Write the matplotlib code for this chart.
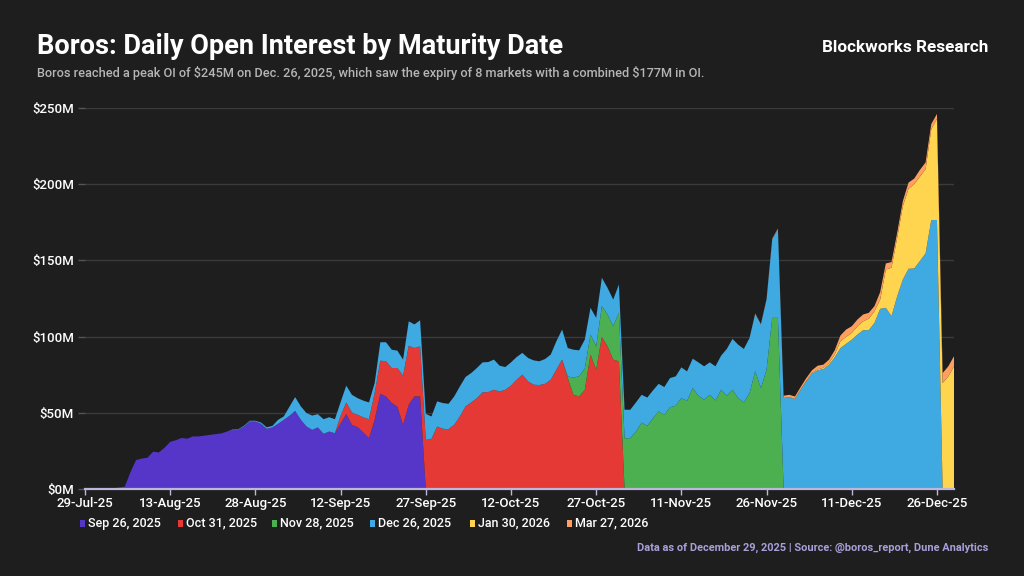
import numpy as np
import pandas as pd
import matplotlib
matplotlib.use("Agg")
import matplotlib.pyplot as plt
import matplotlib.dates as mdates
from matplotlib.patches import Rectangle

plt.rcParams['font.family'] = ['Roboto', 'DejaVu Sans']

# Daily dates, 29-Jul-25 .. 29-Dec-25
dates = pd.date_range('2025-07-29', '2025-12-29', freq='D')
n_days = len(dates)

# Open interest per maturity ($M); each list starts at its first day index
sep26_start = 0
sep26 = [0.2, 0.2, 0.2, 0.2, 0.2, 0.5, 1.0, 1.5, 11, 19,
         20, 20.5, 24.5, 24, 27, 31, 32, 33.5, 33, 34.5,
         34.5, 35, 35.5, 36, 36.5, 37.7, 38.8, 39, 41, 44.3,
         44.3, 42.8, 39.5, 40.4, 42.8, 45.4, 48, 51.3, 45.4, 41,
         38.8, 40.4, 36.2, 37.7, 36.6, 43, 49.1, 42, 40.6, 37,
         33.3, 45.4, 62.5, 60.7, 56.4, 54, 42, 55.3, 60.7, 60.7]

oct31_start = 45
oct31 = [5, 7.7, 8.2, 8.1, 10, 12.5, 17.6, 21.7, 23.1, 23,
         25.4, 32.3, 38.7, 31.8, 32.9,
         32.2, 32.9, 41, 39.5, 39.3, 42.1, 47.6, 54.2, 56.8, 59.6,
         63.4, 63.6, 65.1, 64, 65.1, 67.8, 71.7, 75, 70.6, 68.4,
         68.2, 69, 71.7, 78.3, 84.9, 72.8, 61.8, 60.7, 65.1, 88.2,
         78.3, 99.8, 93.6, 84.9, 83.8]

nov28_start = 85
nov28 = [1.1, 11.2, 13.3, 14, 13.1, 15.3, 20.2, 20.9, 21.9, 31.8,
         33.3, 33.3, 37.7, 43.6, 41.4, 46.5, 50.9, 48.7, 53.7, 54.6,
         59.6, 57.9, 66.2, 61.2, 58.6, 61.8, 58.1, 65.1, 61.2, 65.1,
         59.6, 56.8, 62.9, 77.2, 66.2, 78.3, 112.3, 112.3]

dec26_start = 26
dec26 = [0.3, 0.3, 0.5, 0.5, 0.5, 0.8, 1.0, 1.0, 2.6, 2.2,
         6, 9, 8.8, 8.8, 9.4, 8.7, 9.6, 9.4, 9.2, 9,
         11, 11.6, 10.9, 11, 11, 6.5, 12.1, 12.5, 12, 11.4,
         10.6, 16, 15.5, 17.1,
         17.1, 14.7, 16.5, 16.9, 16.6, 18.6, 19.7, 19.3, 19.3, 19.8,
         19.7, 19.7, 19.8, 16.9, 14.9, 15.3, 14.9, 14.3, 15.4, 16,
         15.6, 16.3, 16.5, 18.7, 19.7, 18.6, 18.4, 17, 19, 17.6,
         18.7, 18.6, 17.5, 17.5, 18.6,
         18.7, 18.7, 19.1, 18.2, 18.6, 18.2, 18.1, 18.2, 19.1, 19.3,
         20.2, 19.3, 19.3, 21.9, 21.9, 21.3, 22.4, 22.4, 30.7, 33.4,
         35.1, 35.1, 36.2, 37.7, 41.7, 46, 51.5, 58.1,
         59.6, 60.1, 59, 65.1, 70.6, 75.7, 77.9, 78.7, 81.6, 86.4,
         92.5, 95.2, 98, 101.3, 104.2, 104.2, 109, 118.2, 118.9, 113.4,
         126.5, 137.5, 144.5, 144.7, 149.6, 154.6, 176.5, 176.5]

jan30_start = 123
jan30 = [0.2, 0.2, 0.2, 0.3, 0.4, 0.5, 0.6, 0.8, 1.1, 1.8,
         4.4, 4.6, 4.4, 5.5, 5.8, 7.6, 7.7, 6.1, 25.1, 31.8,
         38.4, 48.2, 52.6, 55.3, 55.4, 55.3, 59.7, 66.3, 69.5, 73.9,
         80.5]

mar27_start = 118
mar27 = [0.3, 0.3, 0.4, 0.5, 0.5,
         1.4, 1.5, 1.5, 1.5, 1.8, 1.7, 2.4, 2.1, 2.2, 2.8,
         3.8, 4.8, 4.4, 4.4, 4.5, 3.8, 3.3, 4.9, 4, 3.7,
         3.3, 3.3, 4, 3.7, 4.4, 4.4, 3.3, 3.3, 6.6, 6.6,
         6.6]

labels = ['Sep 26, 2025', 'Oct 31, 2025', 'Nov 28, 2025',
          'Dec 26, 2025', 'Jan 30, 2026', 'Mar 27, 2026']
colors = ['#5536c9', '#e53935', '#4caf50', '#3fa9e1', '#ffd54f', '#ff9f5f']


def full_series(values, start):
    arr = np.zeros(n_days)
    arr[start:start + len(values)] = values
    return arr


series = [full_series(sep26, sep26_start), full_series(oct31, oct31_start),
          full_series(nov28, nov28_start), full_series(dec26, dec26_start),
          full_series(jan30, jan30_start), full_series(mar27, mar27_start)]

BG = '#1e1e1e'
fig = plt.figure(figsize=(10.24, 5.76), dpi=100, facecolor=BG)
ax = fig.add_axes([85 / 1024, 1 - 489 / 576, (954 - 85) / 1024, (489 - 108) / 576])
ax.set_facecolor(BG)

ax.stackplot(dates, *series, colors=colors, linewidth=0, zorder=2)

ax.set_xlim(dates[0], dates[-1])
ax.set_ylim(0, 250)
ax.set_yticks(np.arange(0, 251, 50))
ax.set_yticklabels([f'${v}M' for v in range(0, 251, 50)])
ax.grid(axis='y', color='#3a3a3a', linewidth=1, zorder=0)
ax.set_axisbelow(True)

tick_dates = dates[::15]
ax.set_xticks(tick_dates)
ax.xaxis.set_major_formatter(mdates.DateFormatter('%d-%b-%y'))

for side in ['top', 'right', 'left']:
    ax.spines[side].set_visible(False)
ax.spines['bottom'].set_color('#bdb7db')
ax.spines['bottom'].set_linewidth(1.6)
ax.spines['bottom'].set_zorder(5)
ax.tick_params(axis='x', colors='#bdb7db', labelcolor='white', labelsize=9.5,
               length=4, width=1, pad=2)
ax.tick_params(axis='y', colors='#555555', labelcolor='white', labelsize=9.5,
               length=5, width=1, pad=3)
for lbl in ax.get_xticklabels() + ax.get_yticklabels():
    lbl.set_fontweight('medium')

# Titles
fig.text(37 / 1024, 1 - 47 / 576, 'Boros: Daily Open Interest by Maturity Date',
         color='white', fontsize=19.5, fontweight='bold', va='center', ha='left')
fig.text(37 / 1024, 1 - 73 / 576,
         r'Boros reached a peak OI of \$245M on Dec. 26, 2025, which saw the expiry of 8 markets '
         r'with a combined \$177M in OI.',
         color='#b5b5b5', fontsize=9.2, fontweight='medium', va='center', ha='left')
fig.text(988 / 1024, 1 - 48 / 576, 'Blockworks Research', color='white',
         fontsize=12.3, fontweight='bold', va='center', ha='right')
fig.text(988 / 1024, 1 - 548 / 576,
         'Data as of December 29, 2025 | Source: @boros_report, Dune Analytics',
         color='#a99fd9', fontsize=7.9, fontweight='bold', va='center', ha='right')

# Legend
legend_x = [80, 178, 272, 370, 470, 567]
for x0, lab, col in zip(legend_x, labels, colors):
    fig.patches.append(Rectangle((x0 / 1024, 1 - 527 / 576), 5 / 1024, 7 / 576,
                                 transform=fig.transFigure, facecolor=col,
                                 edgecolor='none'))
    fig.text((x0 + 8) / 1024, 1 - 523 / 576, lab, color='white', fontsize=9,
             fontweight='medium', va='center', ha='left')

plt.savefig('out.png', dpi=100, facecolor=BG)
plt.close()
